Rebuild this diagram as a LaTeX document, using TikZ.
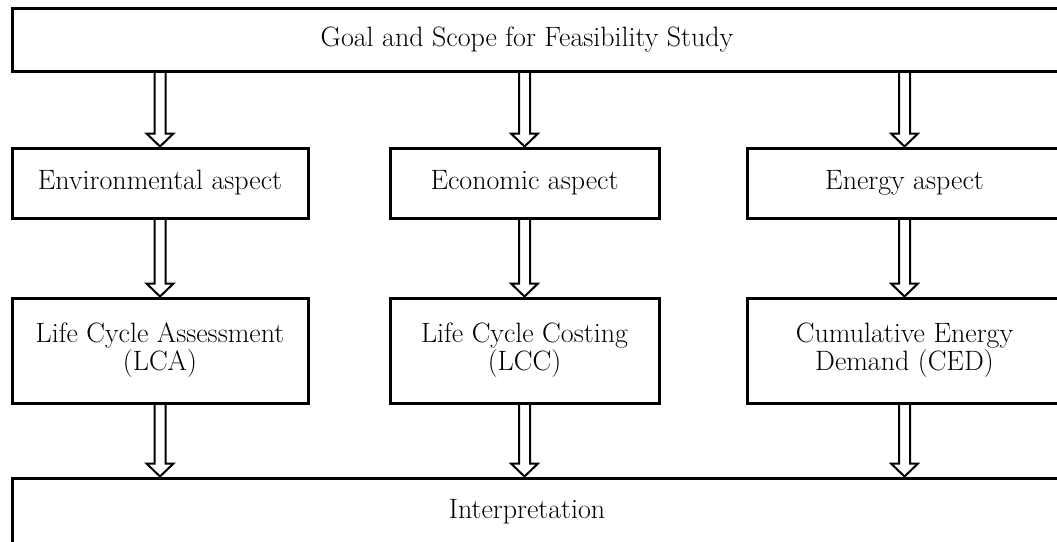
\documentclass[tikz,border=0pt]{standalone}
\usepackage{fontspec}
\usepackage{tikz}
\usetikzlibrary{calc}
\tikzset{
  node-box/.style={draw=black,line width=3pt,minimum height=70pt,
    align=center,inner sep=0pt},
  node-tall/.style={node-box,minimum height=105pt},
  node-wide/.style={draw=black,line width=3pt,minimum width=1050pt,inner sep=0pt},
  % hollow block arrow, drawn straight down from start to target
  arrow-hollow/.style={draw=black,line width=2pt,line join=miter,
    to path={let \p1=(\tikztostart),\p2=(\tikztotarget) in
      (\x1-5.5pt,\y1) -- (\x1-5.5pt,\y2+13pt) -- (\x1-13.5pt,\y2+13pt) -- (\x1,\y2)
      -- (\x1+13.5pt,\y2+13pt) -- (\x1+5.5pt,\y2+13pt) -- (\x1+5.5pt,\y1)}},
}

\begin{document}
\begin{tikzpicture}[x=1pt,y=-1pt,font=\fontsize{28}{28}\selectfont]
  \clip (0,0) rectangle (1057,541);
  \fill[white] (0,0) rectangle (1057,541);
  % goal and interpretation
  \node[node-wide,minimum height=63pt] (goal) at (537,39.5) {};
  \node (goal-text) at (527,39.5) {Goal and Scope for Feasibility Study};
  \node[node-wide,minimum height=68pt] (interp) at (537,512) {};
  \node (interp-text) at (527,512) {Interpretation};
  % aspects
  \node[node-box,minimum width=296pt] (env) at (160,183) {Environmental aspect};
  \node[node-box,minimum width=269pt] (econ) at (524.5,183) {Economic aspect};
  \node[node-box,minimum width=315pt] (energy) at (904.5,183) {Energy aspect};
  % methods
  \node[node-tall,minimum width=296pt] (lca) at (160,350.5) {Life Cycle Assessment\\(LCA)};
  \node[node-tall,minimum width=269pt] (lcc) at (524.5,350.5) {Life Cycle Costing\\(LCC)};
  \node[node-tall,minimum width=315pt] (ced) at (904.5,350.5) {Cumulative Energy\\Demand (CED)};
  \foreach \a/\b in {env/lca,econ/lcc,energy/ced} {
    \draw[arrow-hollow] (goal.south -| \a.north) to (\a.north);
    \draw[arrow-hollow] (\a.south) to (\b.north);
    \draw[arrow-hollow] (\b.south) to (interp.north -| \b.south);
  }
\end{tikzpicture}
\end{document}
